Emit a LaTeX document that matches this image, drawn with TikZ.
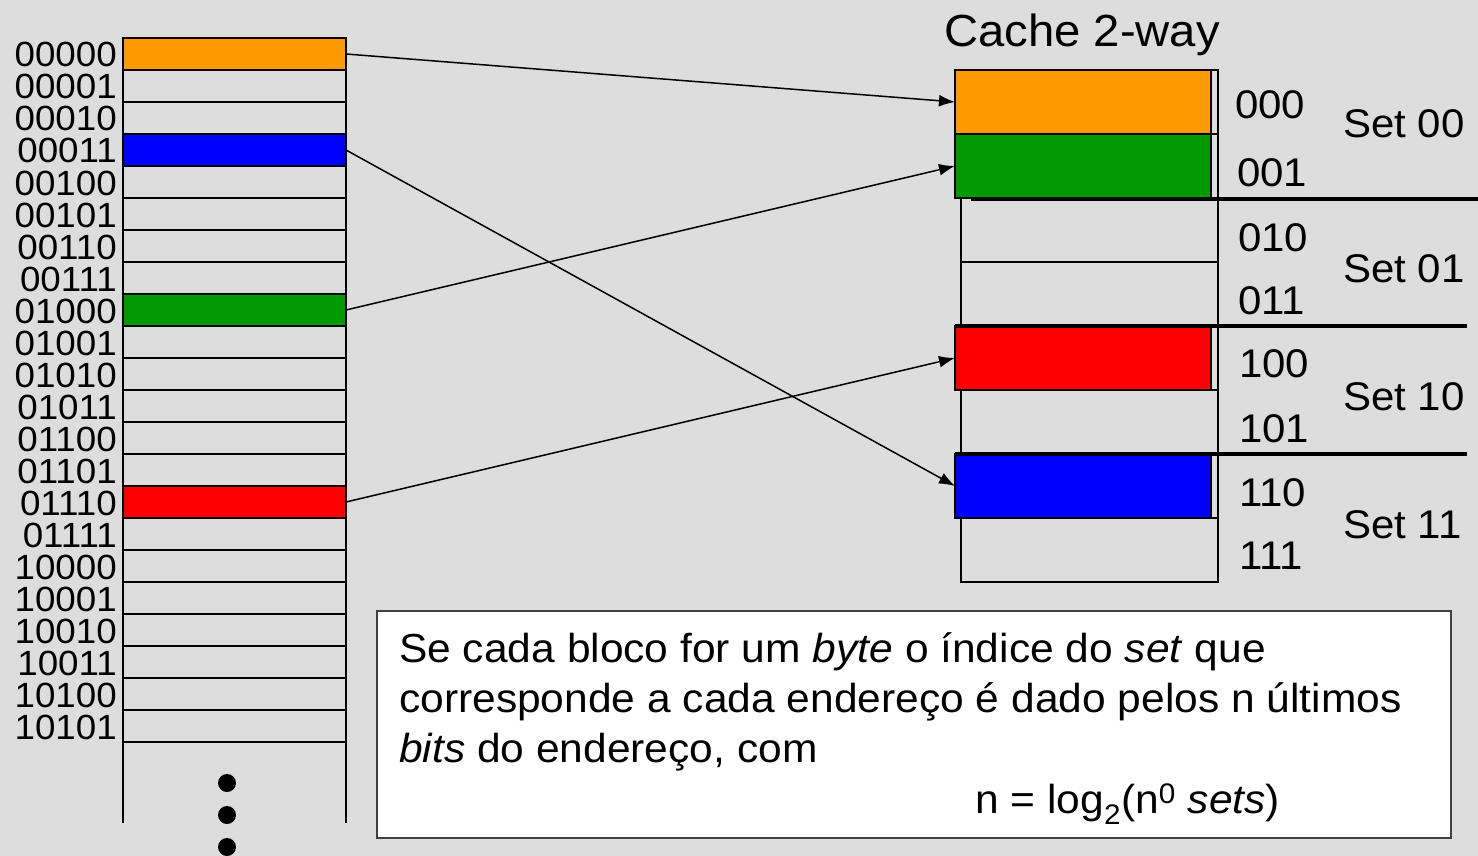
\documentclass[tikz,border=0pt]{standalone}
\usepackage{fontspec}
\setmainfont{Liberation Sans}[FakeStretch=1.05]
\usetikzlibrary{arrows.meta}
\definecolor{bg}{HTML}{DDDDDD}
\definecolor{corange}{HTML}{FF9900}
\definecolor{cgreen}{HTML}{009900}
\definecolor{cblue}{HTML}{0000FF}
\definecolor{cred}{HTML}{FF0000}
\begin{document}
\begin{tikzpicture}[x=1pt,y=-1pt,
  memrow/.style={draw=black, line width=2pt, minimum width=223pt, minimum height=32pt, inner sep=0pt, outer sep=0pt},
  memlab/.style={inner sep=0pt, anchor=base east, font=\fontsize{35}{40}\selectfont},
  memline/.style={draw=black, line width=2pt},
  dotc/.style={circle, fill=black, minimum size=18pt, inner sep=0pt},
  cacherow/.style={draw=black, line width=1.5pt, minimum width=257pt, minimum height=64pt, inner sep=0pt, outer sep=0pt},
  block/.style={draw=black, line width=2pt, minimum width=256pt, minimum height=64pt, inner sep=0pt, outer sep=0pt},
  setline/.style={draw=black, line width=4pt},
  clab/.style={inner sep=0pt, anchor=base west, font=\fontsize{40}{46}\selectfont},
  txt/.style={inner sep=0pt, anchor=base west, font=\fontsize{40.5}{48}\selectfont},
  arr/.style={draw=black, line width=1.5pt, -{Latex[length=16pt,width=12pt]}},
  tbox/.style={draw=black!75, fill=white, line width=1.5pt, minimum width=1074pt, minimum height=227pt, inner sep=0pt, outer sep=0pt, anchor=north west}
]
\fill[bg] (0,0) rectangle (1478,856);
\useasboundingbox (0,0) rectangle (1478,856);

% memory column
\foreach \k/\lab/\col in {0/00000/corange,1/00001/none,2/00010/none,3/00011/cblue,4/00100/none,5/00101/none,6/00110/none,7/00111/none,8/01000/cgreen,9/01001/none,10/01010/none,11/01011/none,12/01100/none,13/01101/none,14/01110/cred,15/01111/none,16/10000/none,17/10001/none,18/10010/none,19/10011/none,20/10100/none,21/10101/none}{
  \node[memrow, fill=\col] (m\k) at (234.5,{38+32*\k+16}) {};
  \node[memlab] (ml\k) at (117,{38+32*\k+29}) {\lab};
}
\coordinate (mbl) at (123,823);
\coordinate (mbr) at (346,823);
\draw[memline] (m21.south west) -- (mbl);
\draw[memline] (m21.south east) -- (mbr);
\node[dotc] (d1) at (227,783) {};
\node[dotc] (d2) at (227,815) {};
\node[dotc] (d3) at (227,847) {};

% cache
\node[inner sep=0pt, anchor=base west, font=\fontsize{45}{50}\selectfont] (ctitle) at (944,47) {Cache 2-way};
\foreach \k in {0,...,7}{
  \node[cacherow] (c\k) at (1089.5,{70+64*\k+32}) {};
}
\node[block, fill=corange] (b0) at (1083,102) {};
\node[block, fill=cgreen] (b1) at (1083,166) {};
\node[block, fill=cred] (b4) at (1083,358) {};
\node[block, fill=cblue] (b6) at (1083,486) {};
\draw[setline] (971,199) -- (1478,199);
\draw[setline] (955,326) -- (1467,326);
\draw[setline] (955,454) -- (1467,454);

\node[clab] (l0) at (1235,119) {000};
\node[clab] (l1) at (1237,186) {001};
\node[clab] (l2) at (1238,251) {010};
\node[clab] (l3) at (1238,314) {011};
\node[clab] (l4) at (1239,377) {100};
\node[clab] (l5) at (1239,442) {101};
\node[clab] (l6) at (1239,506) {110};
\node[clab] (l7) at (1239,569) {111};

\node[clab] (s0) at (1343,138) {Set 00};
\node[clab] (s1) at (1343,282) {Set 01};
\node[clab] (s2) at (1343,410) {Set 10};
\node[clab] (s3) at (1343,538) {Set 11};

% arrows
\draw[arr] (m0.east) -- (b0.west);
\draw[arr] (m3.east) -- (b6.west);
\draw[arr] (m8.east) -- (b1.west);
\draw[arr] (m14.east) -- (b4.west);

% text box
\node[tbox] (tb) at (377,611) {};
\node[txt] (t1) at (399,662) {Se cada bloco for um \textit{byte} o índice do \textit{set} que};
\node[txt] (t2) at (399,712) {corresponde a cada endereço é dado pelos n últimos};
\node[txt] (t3) at (399,762) {\textit{bits} do endereço, com};
\node[txt] (t4) at (975,813) {n = log\textsubscript{2}(n\textsuperscript{0} \textit{sets})};
\end{tikzpicture}
\end{document}
